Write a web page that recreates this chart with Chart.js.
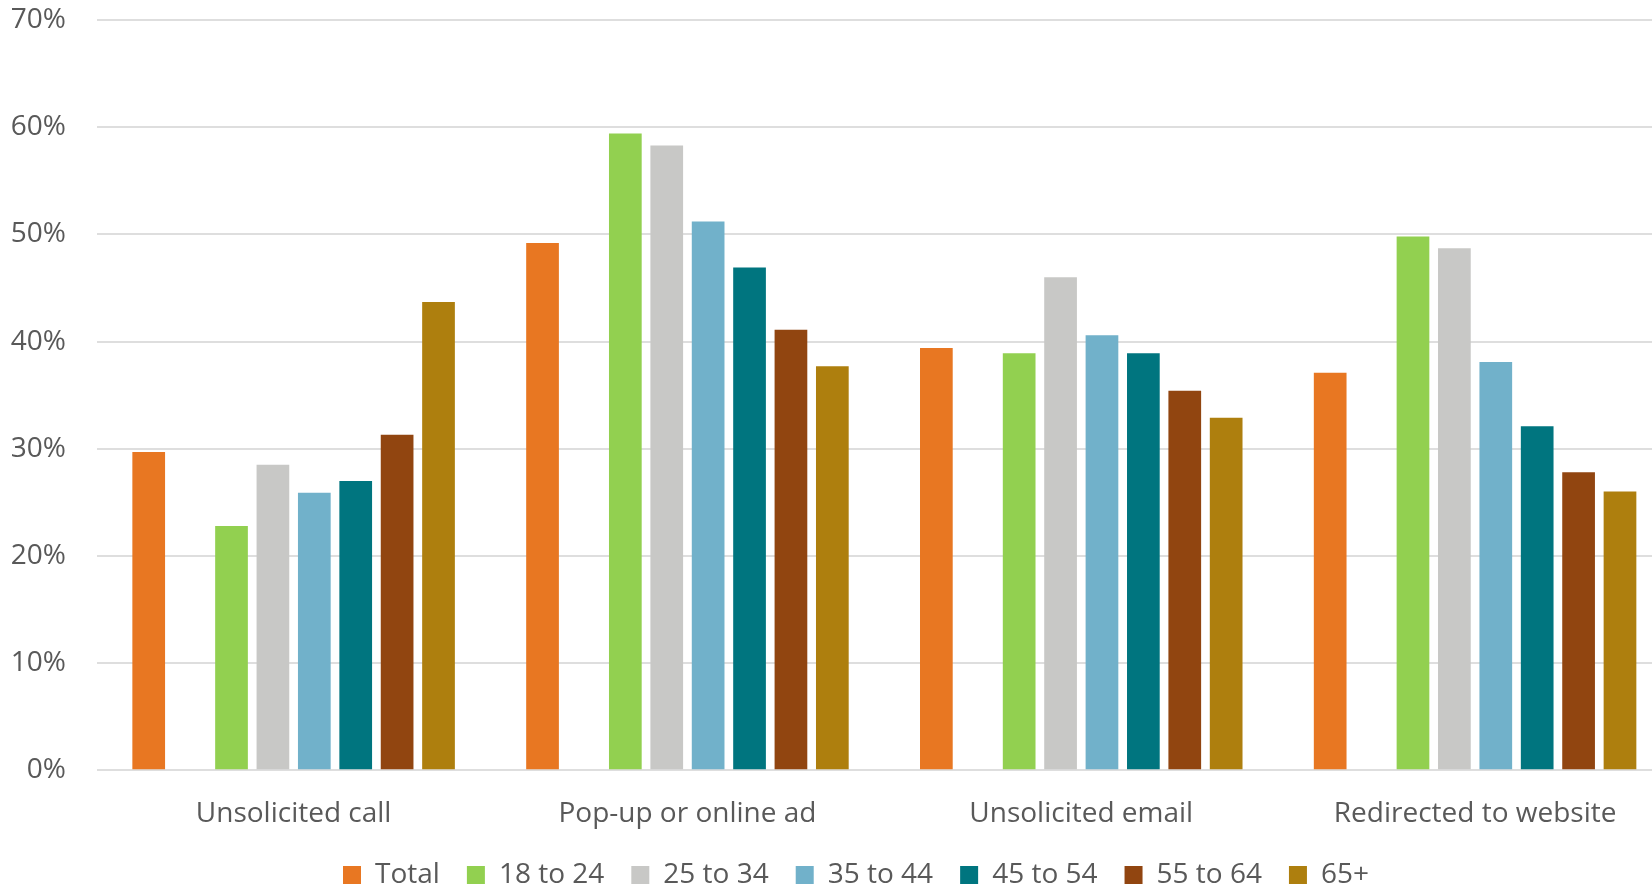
<!DOCTYPE html>
<html>
<head>
<meta charset="utf-8">
<script src="https://cdn.jsdelivr.net/npm/chart.js@4/dist/chart.umd.min.js"></script>
<style>
  html, body { margin: 0; padding: 0; background: #ffffff; overflow: hidden; }
  #wrap { width: 1652px; height: 889px; position: relative; overflow: hidden; }
  #chart { position: absolute; left: 0; top: 0; }
</style>
</head>
<body>
<div id="wrap"><canvas id="chart" width="1702" height="889"></canvas></div>
<script>
// Share of respondents by contact channel, overall and by age group (%)
const categories = ['Unsolicited call', 'Pop-up or online ad', 'Unsolicited email', 'Redirected to website'];
const seriesNames = ['Total', '18 to 24', '25 to 34', '35 to 44', '45 to 54', '55 to 64', '65+'];
const total  = [29.7, 49.2, 39.4, 37.1];
const age18  = [22.8, 59.4, 38.9, 49.8];
const age25  = [28.5, 58.3, 46.0, 48.7];
const age35  = [25.9, 51.2, 40.6, 38.1];
const age45  = [27.0, 46.9, 38.9, 32.1];
const age55  = [31.3, 41.1, 35.4, 27.8];
const age65  = [43.7, 37.7, 32.9, 26.0];
const yTicks = [0, 10, 20, 30, 40, 50, 60, 70];

const colors = ['#E87722', '#92D050', '#C8C8C6', '#71B1CA', '#00757F', '#914510', '#AE7F0E'];
const values = [total, age18, age25, age35, age45, age55, age65];

const textColor = '#595959';
const fontFamily = '"Open Sans", "Liberation Sans", sans-serif';
const fontSize = 28;

const datasets = values.map((v, i) => ({
  label: seriesNames[i],
  data: v,
  backgroundColor: colors[i],
  borderWidth: 0
}));
// empty slot that separates the total from the age groups
datasets.splice(1, 0, { label: '', data: categories.map(() => null), backgroundColor: 'rgba(0,0,0,0)' });

new Chart(document.getElementById('chart'), {
  type: 'bar',
  data: { labels: categories, datasets },
  options: {
    responsive: false,
    animation: false,
    devicePixelRatio: 1,
    layout: { padding: { top: 20, left: 10, right: 0, bottom: -10 } },
    datasets: { bar: { categoryPercentage: 0.841, barPercentage: 0.79 } },
    plugins: {
      legend: {
        position: 'bottom',
        labels: {
          boxWidth: 18,
          boxHeight: 18,
          padding: 27,
          color: textColor,
          font: { family: fontFamily, size: fontSize },
          filter: item => item.text !== ''
        }
      },
      tooltip: { enabled: false }
    },
    scales: {
      x: {
        grid: { display: false, drawTicks: false },
        border: { display: false },
        ticks: {
          color: textColor,
          font: { family: fontFamily, size: fontSize },
          padding: 27,
          maxRotation: 0,
          autoSkip: false
        },
        afterFit: s => { s.height = 63.7; }
      },
      y: {
        min: yTicks[0],
        max: yTicks[yTicks.length - 1],
        afterBuildTicks: s => { s.ticks = yTicks.map(v => ({ value: v })); },
        grid: { color: '#DEDEDE', lineWidth: 2, drawTicks: true, tickLength: 30.7, tickColor: 'rgba(0,0,0,0)' },
        border: { display: false },
        ticks: {
          color: textColor,
          font: { family: fontFamily, size: fontSize },
          padding: 0,
          callback: v => v + '%'
        },
        afterFit: s => { s.width = 86.7; }
      },
      // blank margin on the right so the plot runs past the visible edge
      margin: {
        position: 'right',
        grid: { display: false, drawTicks: false },
        border: { display: false },
        ticks: { display: false },
        afterFit: s => { s.width = 30; }
      }
    }
  }
});
</script>
</body>
</html>
